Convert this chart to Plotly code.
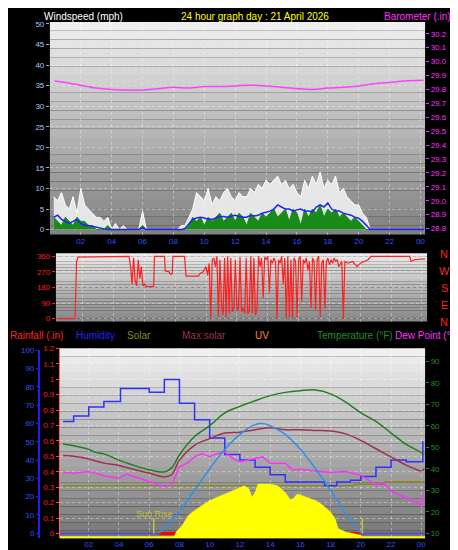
import numpy as np
import plotly.graph_objects as go

W, H = 458, 550
# ---------------- data ----------------
wind_t = list(np.arange(0.25, 24.26, 0.25))
gust = [8,7,9,6,5,8,4,10,6,5,4,3,
        3,2,3,0,1.5,0,1,0,0,0,0,4.5,
        0,0,0,0,0,0,0,0,0,1,1,3,
        5,9,8,7,10,6,8,7,9,10,8,7,
        9,8,8,10,9,11,10,12,11,12,13,11,
        12,10,11,9,8,12,10,13,11,14,10,12,
        11,13,9,10,8,7,6,6,4,3,0,0,
        0,0,0,0,0,0,0,0,0,0,0,0,0]
avg = [3,3.5,2.5,2,1.5,2,2.5,1.5,1,1,0.8,0.5,
       0.3,0.2,0,0,0,0,0,0,0,0,0,0.5,
       0,0,0,0,0,0,0,0,0,0,0.3,1.5,
       2.5,2.8,3,2.8,2.5,2.5,2.8,3.2,3.2,3,3.3,3.5,
       3.2,3,3,3.5,3.3,3.5,4,4.2,4.5,5,6,5.5,
       5,5,4.5,4.8,5,4.5,4.5,4.3,5.5,6,5.5,6.5,
       5,4.5,4.5,4,3.8,3.5,3,2.8,2,1,0,0,
       0,0,0,0,0,0,0,0,0,0,0,0,0]
speed = [3,2,1,3,2,1,3,2,2,1,1,0,
         0,0,1,0,0,0,0,0,0,0,0,1,
         0,0,0,0,0,0,0,0,0,0,0,1,
         3,2,3,1,3,2,3,4,2,3,4,2,
         4,3,1,4,3,2,4,3,4,5,3,4,
         5,2,5,4,1,5,3,5,4,6,3,5,
         4,5,3,4,3,2,3,2,1,0,0,0,
         0,0,0,0,0,0,0,0,0,0,0,0,0]
baro_t = [0.3,1,2,3,4,5,6,7,8,9,10,11,12,13,14,15,16,17,18,19,20,21,22,23,24.2]
baro = [29.86,29.85,29.83,29.81,29.80,29.795,29.795,29.805,29.815,29.81,29.82,29.82,29.825,
        29.83,29.825,29.815,29.805,29.80,29.81,29.815,29.825,29.84,29.85,29.86,29.865]
dir_pairs = [(0.3,0),(1.5,0),(1.6,330),(1.7,355),(5.0,360),(5.1,300),(5.2,200),(5.3,350),(5.4,220),
 (5.5,190),(5.6,340),(5.7,230),(5.8,300),(5.9,190),(6.0,200),(6.1,185),(6.6,185),(6.65,360),(7.3,360),
 (7.35,275),(7.6,270),(7.7,255),(7.8,260),(7.85,360),(8.6,360),(8.7,245),(9.5,245),(9.6,260),(9.8,270),
 (10.0,300),(10.1,250),(10.2,320),(10.3,5),(10.4,340),(10.5,350),(10.6,300),(10.7,360),(10.8,10),
 (10.9,340),(11.0,80),(11.1,20),(11.2,350),(11.3,5),(11.4,360),(11.5,30),(11.6,350),(11.7,40),(11.8,60),
 (11.9,340),(12.0,50),(12.1,60),(12.2,355),(12.3,40),(12.4,60),(12.5,30),(12.6,350),(12.7,30),(12.8,40),
 (12.9,360),(13.0,30),(13.1,350),(13.2,20),(13.3,50),(13.4,360),(13.5,300),(13.6,350),(13.7,120),
 (13.8,355),(13.9,340),(14.0,360),(14.1,150),(14.2,340),(14.3,320),(14.4,350),(14.5,330),(14.6,0),
 (14.7,340),(14.8,320),(14.9,360),(15.0,200),(15.1,350),(15.2,0),(15.3,360),(15.4,10),(15.5,340),
 (15.6,0),(15.7,350),(15.8,330),(15.9,10),(16.0,340),(16.1,360),(16.2,100),(16.3,340),(16.4,320),
 (16.5,350),(16.6,280),(16.7,330),(16.8,60),(16.9,350),(17.0,330),(17.1,50),(17.2,340),(17.3,360),
 (17.4,10),(17.5,320),(17.6,340),(17.7,60),(17.8,330),(17.9,350),(18.0,310),(18.1,340),(18.2,320),
 (18.3,350),(18.4,330),(18.5,340),(18.6,300),(18.8,330),(18.9,0),(19.0,330),(19.2,320),(19.5,330),
 (19.8,300),(20.0,320),(20.3,330),(20.5,340),(20.7,360),(23.2,360),(23.3,330),(23.5,340),(24.2,345)]
dir_t = [p[0] for p in dir_pairs]
dir_v = [p[1] for p in dir_pairs]

hum_t = [0.3,1,2,3,4.1,6,7,8,9,10,11,12,13,14,15,17.6,18.4,19.3,20,21,22,23,24.1,24.12]
hum = [61,64,69,72,79,77,84,71,62,52,43,40,36,32,28,26,28,29,31,36,40,39,50,50]
temp_t = [0.3,1,2,2.5,3,4,5,6,7,7.5,8,9,10,11,12,13,14,15,16,17,18,19,20,21,22,23,24,24.2]
temp = [51.5,50.7,49,47.5,46.9,44,41.5,39.5,38.5,40.5,46.5,55,60,66,69,71.6,74,75.5,76.3,76.6,
        74.8,71,66,62,56.6,51.3,47.6,46.9]
dew_t = [0.3,1,2,3,4,4.5,5,6,7,7.5,8,8.5,9,9.5,10,10.5,11,11.5,12,13,13.5,14,15,15.5,16,17,18,19,
         20,20.5,21,21.5,22,23,24,24.1]
dew = [38.2,37.9,38.7,36.7,35.6,37.5,36.4,34,31.8,32.5,41,42.5,45.6,47,45.6,47,47.8,44.8,43.3,44.8,
       45.5,42.5,42.5,39.4,39.7,39,38.2,38.7,37,34.8,32.5,33.5,29.5,26.4,23.3,28.7]
app_t = [0.3,1,2,3,4,5,6,7,7.5,8,9,10,11,12,13,14,15,16,17,18,19,20,21,22,23,24,24.2]
app = [46.1,45.8,44.5,42.6,41.5,39.6,38,36.2,37.3,44,50.9,54,56.6,57,58.1,59,58.1,58.1,57.8,57.5,
       56.2,53.2,49.3,45.5,41.7,39,40.1]
maxsol_t = [6.6,7,8,9,10,11,12,13,13.5,14,15,16,17,18,19,20]
maxsol = [10,12,20,30,40,49,56,60.5,61,60,56,49,40,30,19,10]
solar_t = [0,7.6,7.8,8.2,8.6,9,10,11,12,12.3,12.6,12.8,13,13.2,14,14.5,15,15.3,15.5,15.8,16,17,17.5,
           18,18.3,18.5,19,19.5,20,20.1,24.25]
solar = [0,0,6.7,13.3,23.3,28,38,44.7,51.3,53,49.7,41.3,46.3,54.7,54.7,53,46.3,39.7,39.7,44.7,43.7,
         38,33,26.3,19.7,9.7,6.3,4.7,3,0,0]
olive_t = [0.3,19.5,19.6,21.5,21.6,24.2]
olive = [0.31,0.31,0.32,0.32,0.335,0.335]
rain_t = [6.6,20]
rain = [0,0]
sun_t = [6.3,20.1]
hours = [2,4,6,8,10,12,14,16,18,20,22,24]
hour_lbl = ["02","04","06","08","10","12","14","16","18","20","22","00"]

FONT = "Liberation Sans"
def xf(px): return px / W
def yf(py): return 1 - py / H

fig = go.Figure()
fig.add_trace(go.Scatter(x=wind_t, y=gust, fill='tozeroy', mode='lines', line=dict(color='white', width=1),
                         fillcolor='rgba(235,235,235,0.95)', xaxis='x', yaxis='y'))
fig.add_trace(go.Scatter(x=wind_t, y=speed, fill='tozeroy', mode='lines', line=dict(color='#109010', width=1),
                         fillcolor='#1a8a1a', xaxis='x', yaxis='y'))
fig.add_trace(go.Scatter(x=wind_t, y=avg, mode='lines', line=dict(color='#2020ff', width=1.5), xaxis='x', yaxis='y'))
fig.add_trace(go.Scatter(x=baro_t, y=baro, mode='lines', line=dict(color='#ff40ff', width=1.5, shape='spline'),
                         xaxis='x', yaxis='y2'))
fig.add_trace(go.Scatter(x=dir_t, y=dir_v, mode='lines', line=dict(color='#ff2020', width=1.2), xaxis='x2', yaxis='y3'))
fig.add_trace(go.Scatter(x=solar_t, y=solar, fill='tozeroy', mode='lines', line=dict(color='#ffff00', width=0.5),
                         fillcolor='#ffff00', xaxis='x3', yaxis='y8'))
fig.add_trace(go.Scatter(x=[0.09, 24.25], y=[0.5, 0.5], mode='lines', line=dict(color='#ffff00', width=3),
                         xaxis='x3', yaxis='y8'))
fig.add_trace(go.Scatter(x=[0.09, 24.25], y=[0, 0], mode='lines', line=dict(color='#5050d0', width=2),
                         xaxis='x3', yaxis='y6'))
fig.add_trace(go.Scatter(x=rain_t, y=rain, mode='lines', line=dict(color='#ff0000', width=3), xaxis='x3', yaxis='y6'))
fig.add_trace(go.Scatter(x=olive_t, y=olive, mode='lines', line=dict(color='#8a8a20', width=1.5), xaxis='x3', yaxis='y6'))
for st in sun_t:
    fig.add_trace(go.Scatter(x=[st, st], y=[0, 0.1], mode='lines', line=dict(color='#c8c040', width=1.5),
                             xaxis='x3', yaxis='y6'))
fig.add_trace(go.Scatter(x=hum_t, y=hum, mode='lines', line=dict(color='#3030ff', width=1.5, shape='hv'),
                         xaxis='x3', yaxis='y5'))
fig.add_trace(go.Scatter(x=app_t, y=app, mode='lines', line=dict(color='#a03050', width=1.5, shape='spline'),
                         xaxis='x3', yaxis='y7'))
fig.add_trace(go.Scatter(x=temp_t, y=temp, mode='lines', line=dict(color='#208020', width=1.5, shape='spline'),
                         xaxis='x3', yaxis='y7'))
fig.add_trace(go.Scatter(x=dew_t, y=dew, mode='lines', line=dict(color='#ff30ff', width=1.5), xaxis='x3', yaxis='y7'))
fig.add_trace(go.Scatter(x=maxsol_t, y=maxsol, mode='lines', line=dict(color='#3090e8', width=1.5, shape='spline'),
                         xaxis='x3', yaxis='y7'))

shapes = []
def grad(x0, x1, y0, y1, c0, c1, n=24):
    for i in range(n):
        a = y0 + (y1 - y0) * i / n
        b = y0 + (y1 - y0) * (i + 1) / n
        t = i / (n - 1)
        c = int(c0 + (c1 - c0) * t)
        shapes.append(dict(type='rect', xref='paper', yref='paper', x0=xf(x0), x1=xf(x1), y0=yf(a), y1=yf(b),
                           fillcolor=f'rgb({c},{c},{c})', line=dict(width=0), layer='below'))
grad(42, 418, 10, 225, 238, 130)
grad(48, 420, 244, 313, 235, 135)
grad(52, 418, 340, 532, 240, 120)
shapes.append(dict(type='line', xref='paper', yref='paper', x0=xf(31), x1=xf(31), y0=yf(342), y1=yf(532),
                   line=dict(color='#2020ff', width=2)))

grid = dict(showgrid=True, gridcolor='rgba(255,255,255,0.35)', griddash='dot', gridwidth=1)
fig.update_layout(
    width=W, height=H, margin=dict(l=0, r=0, t=0, b=0), paper_bgcolor='black', plot_bgcolor='rgba(0,0,0,0)',
    showlegend=False, shapes=shapes, font=dict(family=FONT, size=10),
    xaxis=dict(domain=[xf(42), xf(418)], range=[0, 24.3], tickvals=hours, ticktext=hour_lbl, anchor='y',
               tickfont=dict(family=FONT, size=8, color='#3050ff'), zeroline=False, ticks='', **grid),
    yaxis=dict(domain=[yf(225), yf(10)], range=[-1.2, 50.5], dtick=5, tickfont=dict(family=FONT, size=8, color='#a8c8ff'),
               zeroline=False, ticks='outside', ticklen=3, tickcolor='#aaaaaa', anchor='x', **grid),
    yaxis2=dict(overlaying='y', side='right', range=[28.757, 30.285], dtick=0.1, tickformat='.1f',
                tickfont=dict(family=FONT, size=8, color='#ff30ff'), showgrid=False, zeroline=False,
                ticks='outside', ticklen=3, tickcolor='#ff30ff', anchor='x'),
    xaxis2=dict(domain=[xf(48), xf(420)], range=[0.26, 24.33], tickvals=hours, showticklabels=False,
                anchor='y3', zeroline=False, **grid),
    yaxis3=dict(domain=[yf(313), yf(244)], range=[-17, 377], tickvals=[0, 90, 180, 270, 360],
                tickfont=dict(family=FONT, size=8, color='#ff2020'), anchor='x2', zeroline=False,
                ticks='outside', ticklen=3, tickcolor='#ff2020', **grid),
    xaxis3=dict(domain=[xf(52), xf(418)], range=[0.09, 24.25], tickvals=hours, ticktext=hour_lbl, anchor='y6',
                tickfont=dict(family=FONT, size=8, color='#3050ff'), zeroline=False, **grid),
    yaxis5=dict(domain=[yf(532), yf(340)], range=[-2.7, 101], dtick=10, anchor='free', position=xf(31),
                overlaying='y6', side='left', tickfont=dict(family=FONT, size=8, color='#3050ff'),
                showgrid=False, zeroline=False, ticks='outside', ticklen=3, tickcolor='#2020ff'),
    yaxis6=dict(domain=[yf(532), yf(340)], range=[-0.03, 1.2], dtick=0.1, tickformat='.1~f', anchor='x3',
                tickfont=dict(family=FONT, size=8, color='#ff2020'), zeroline=False,
                ticks='outside', ticklen=3, tickcolor='#ff4040', showline=True, linecolor='#ff6060',
                **grid),
    yaxis7=dict(overlaying='y6', side='right', range=[7.7, 96], dtick=10, anchor='x3',
                tickfont=dict(family=FONT, size=8, color='#209020'), showgrid=False, zeroline=False,
                ticks='outside', ticklen=3, tickcolor='#209020'),
    yaxis8=dict(overlaying='y6', range=[0, 192], visible=False, anchor='x3'),
)

ann = []
def txt(x, y, s, c, anchor='left', size=10):
    ann.append(dict(x=xf(x), y=yf(y), xref='paper', yref='paper', text=s, showarrow=False,
                    font=dict(family=FONT, size=size, color=c), xanchor=anchor, yanchor='middle'))
txt(34, 5, "Windspeed (mph)", "white")
txt(248, 5, "24 hour graph day : 21 April 2026", "#ffff00", 'center')
txt(446, 5, "Barometer (.in)", "#ff30ff", 'right')
for s, py in zip("NWSEN", [245, 262, 279, 296, 313]):
    txt(437, py, s, "#ff2020", 'center', 11)
txt(0, 327, "Rainfall (.in)", "#ff2020")
txt(66, 327, "Humidity", "#2020ff")
txt(117, 327, "Solar", "#8a8a20")
txt(172, 327, "Max solar", "#a03050")
txt(246, 327, "UV", "#ff8c20")
txt(308, 327, "Temperature (°F)", "#209020")
txt(386, 327, "Dew Point (°F", "#ff30ff")
txt(126, 508, "Sun Rise", "#c8c040", size=9)
fig.update_layout(annotations=ann)
fig.write_html("out.html")
